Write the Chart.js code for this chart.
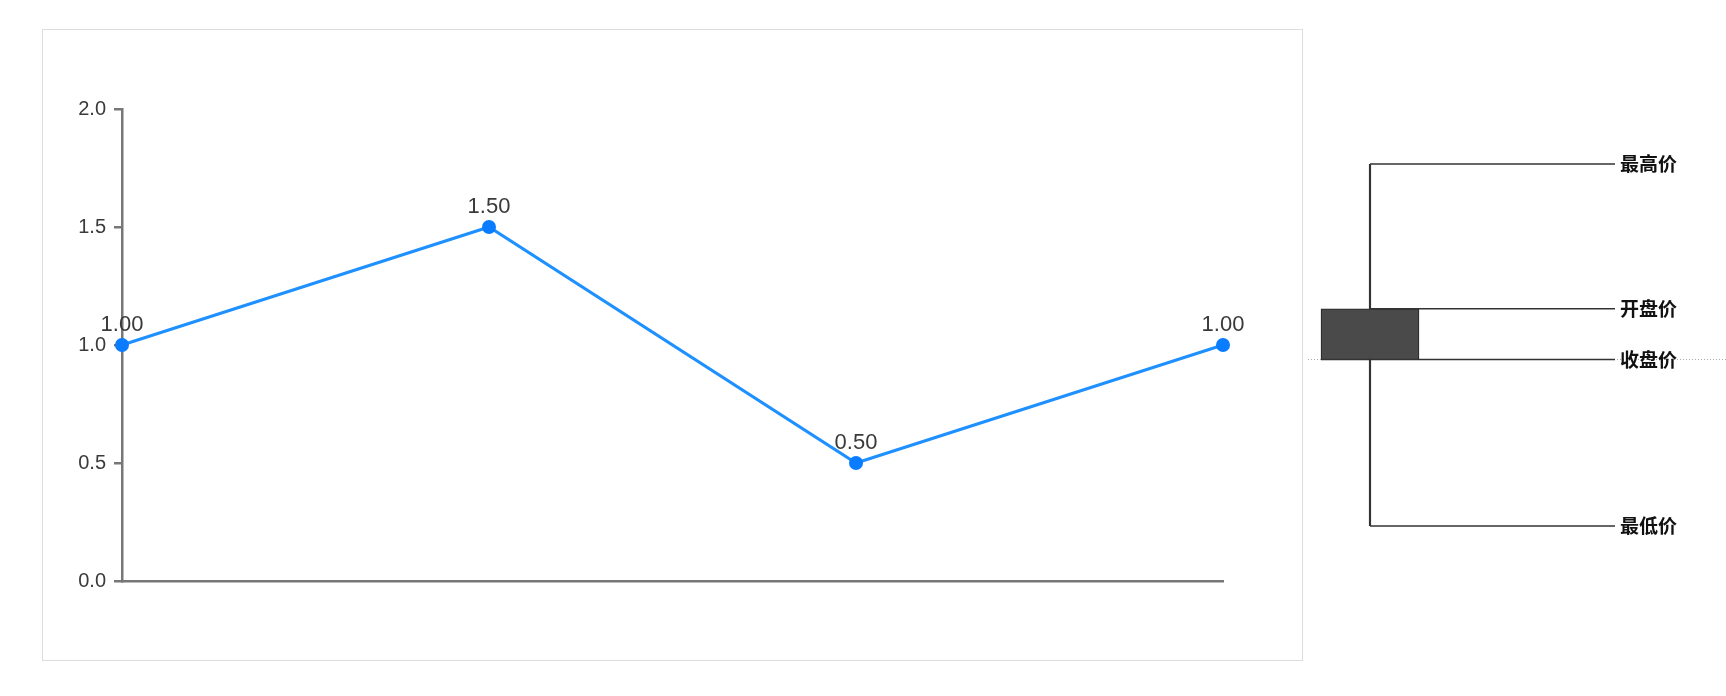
<!DOCTYPE html>
<html>
<head>
<meta charset="utf-8">
<script src="https://cdn.jsdelivr.net/npm/chart.js@4/dist/chart.umd.min.js"></script>
<style>
  html, body { margin: 0; padding: 0; background: #fff; }
  body { width: 1726px; height: 696px; position: relative; overflow: hidden; }
  #lineBox { position: absolute; left: 42px; top: 29px; width: 1261px; height: 632px; border: 1px solid #ddd; box-sizing: border-box; }
  #lineWrap { position: relative; width: 1259px; height: 630px; }
  #candleWrap { position: absolute; left: 1304px; top: 0; width: 422px; height: 696px; }
</style>
</head>
<body>
<div id="lineBox"><div id="lineWrap"><canvas id="lineChart"></canvas></div></div>
<div id="candleWrap"><canvas id="candleChart"></canvas></div>
<script>
// line chart data
const labels = ['1', '2', '3', '4'];
const values = [1.0, 1.5, 0.5, 1.0];
const yTicks = [0, 0.5, 1.0, 1.5, 2.0];

// candle legend data
const candleLabels = ['K'];
const candleHigh = [10];
const candleOpen = [6.0];
const candleClose = [4.6];
const candleLow = [0];
const priceNames = ['最高价', '开盘价', '收盘价', '最低价'];

Chart.defaults.font.family = '"Liberation Sans", Arial, sans-serif';

const pointLabels = {
    id: 'pointLabels',
    afterDatasetsDraw(chart) {
        const ctx = chart.ctx;
        const meta = chart.getDatasetMeta(0);
        ctx.save();
        ctx.font = '22px "Liberation Sans", Arial, sans-serif';
        ctx.fillStyle = '#3a3a3a';
        ctx.textAlign = 'center';
        ctx.textBaseline = 'alphabetic';
        meta.data.forEach((pt, i) => {
            ctx.fillText(values[i].toFixed(2), pt.x, pt.y - 14);
        });
        ctx.restore();
    }
};

new Chart(document.getElementById('lineChart'), {
    type: 'line',
    data: {
        labels: labels,
        datasets: [{
            data: values,
            borderColor: '#1e90ff',
            borderWidth: 3,
            pointRadius: 7,
            pointBackgroundColor: '#0a7cff',
            pointBorderWidth: 0,
            tension: 0,
            clip: false
        }]
    },
    options: {
        responsive: true,
        maintainAspectRatio: false,
        animation: false,
        layout: { padding: { left: 29, right: 79, top: 79, bottom: 79 } },
        plugins: { legend: { display: false }, tooltip: { enabled: false } },
        scales: {
            x: {
                offset: false,
                grid: { display: false, drawTicks: false },
                ticks: { display: false },
                border: { display: true, color: '#777', width: 2.5 }
            },
            y: {
                min: 0,
                max: 2,
                afterBuildTicks: s => { s.ticks = yTicks.map(v => ({ value: v })); },
                afterFit: s => { s.width = 50; },
                grid: { drawOnChartArea: false, drawTicks: true, tickLength: 8, color: '#777', lineWidth: 2.5 },
                border: { color: '#777', width: 2.5 },
                ticks: { padding: 8, color: '#3a3a3a', font: { size: 20 }, callback: v => v.toFixed(1) }
            }
        }
    },
    plugins: [pointLabels]
});

// leader lines + names for the candle legend
const candleNotes = {
    id: 'candleNotes',
    beforeDatasetsDraw(chart) {
        const ctx = chart.ctx;
        const yc = Math.round(chart.scales.y.getPixelForValue(candleClose[0])) + 0.5;
        ctx.save();
        ctx.strokeStyle = '#aaa';
        ctx.lineWidth = 1;
        ctx.setLineDash([1, 2]);
        ctx.beginPath();
        ctx.moveTo(4, yc);
        ctx.lineTo(chart.width, yc);
        ctx.stroke();
        ctx.restore();
    },
    afterDatasetsDraw(chart) {
        const ctx = chart.ctx;
        const y = chart.scales.y;
        const body = chart.getDatasetMeta(0).data[0];
        const cx = body.x;
        const left = body.x - body.width / 2;
        const lineEnd = chart.width - 111;
        const rows = [
            [candleHigh[0], cx],
            [candleOpen[0], cx],
            [candleClose[0], left],
            [candleLow[0], cx]
        ];
        ctx.save();
        ctx.strokeStyle = '#333';
        ctx.lineWidth = 1.5;
        ctx.fillStyle = '#111';
        ctx.font = 'bold 19px "Noto Sans CJK SC", sans-serif';
        ctx.textAlign = 'left';
        ctx.textBaseline = 'middle';
        rows.forEach((r, i) => {
            const py = y.getPixelForValue(r[0]);
            ctx.beginPath();
            ctx.moveTo(r[1], py);
            ctx.lineTo(lineEnd, py);
            ctx.stroke();
            ctx.fillText(priceNames[i], lineEnd + 5, py);
        });
        ctx.restore();
    }
};

new Chart(document.getElementById('candleChart'), {
    type: 'bar',
    data: {
        labels: candleLabels,
        datasets: [
            {
                data: candleLabels.map((l, i) => [candleClose[i], candleOpen[i]]),
                backgroundColor: '#4a4a4a',
                borderColor: '#222',
                borderWidth: 1,
                borderSkipped: false,
                barThickness: 98,
                grouped: false,
                order: 0
            },
            {
                data: candleLabels.map((l, i) => [candleLow[i], candleHigh[i]]),
                backgroundColor: '#333',
                borderWidth: 0,
                barThickness: 1.5,
                grouped: false,
                order: 1
            }
        ]
    },
    options: {
        responsive: true,
        maintainAspectRatio: false,
        animation: false,
        layout: { padding: { left: 0, right: 290, top: 164, bottom: 170 } },
        plugins: { legend: { display: false }, tooltip: { enabled: false } },
        scales: {
            x: { display: false },
            y: { display: false, min: 0, max: 10 }
        }
    },
    plugins: [candleNotes]
});
</script>
</body>
</html>
